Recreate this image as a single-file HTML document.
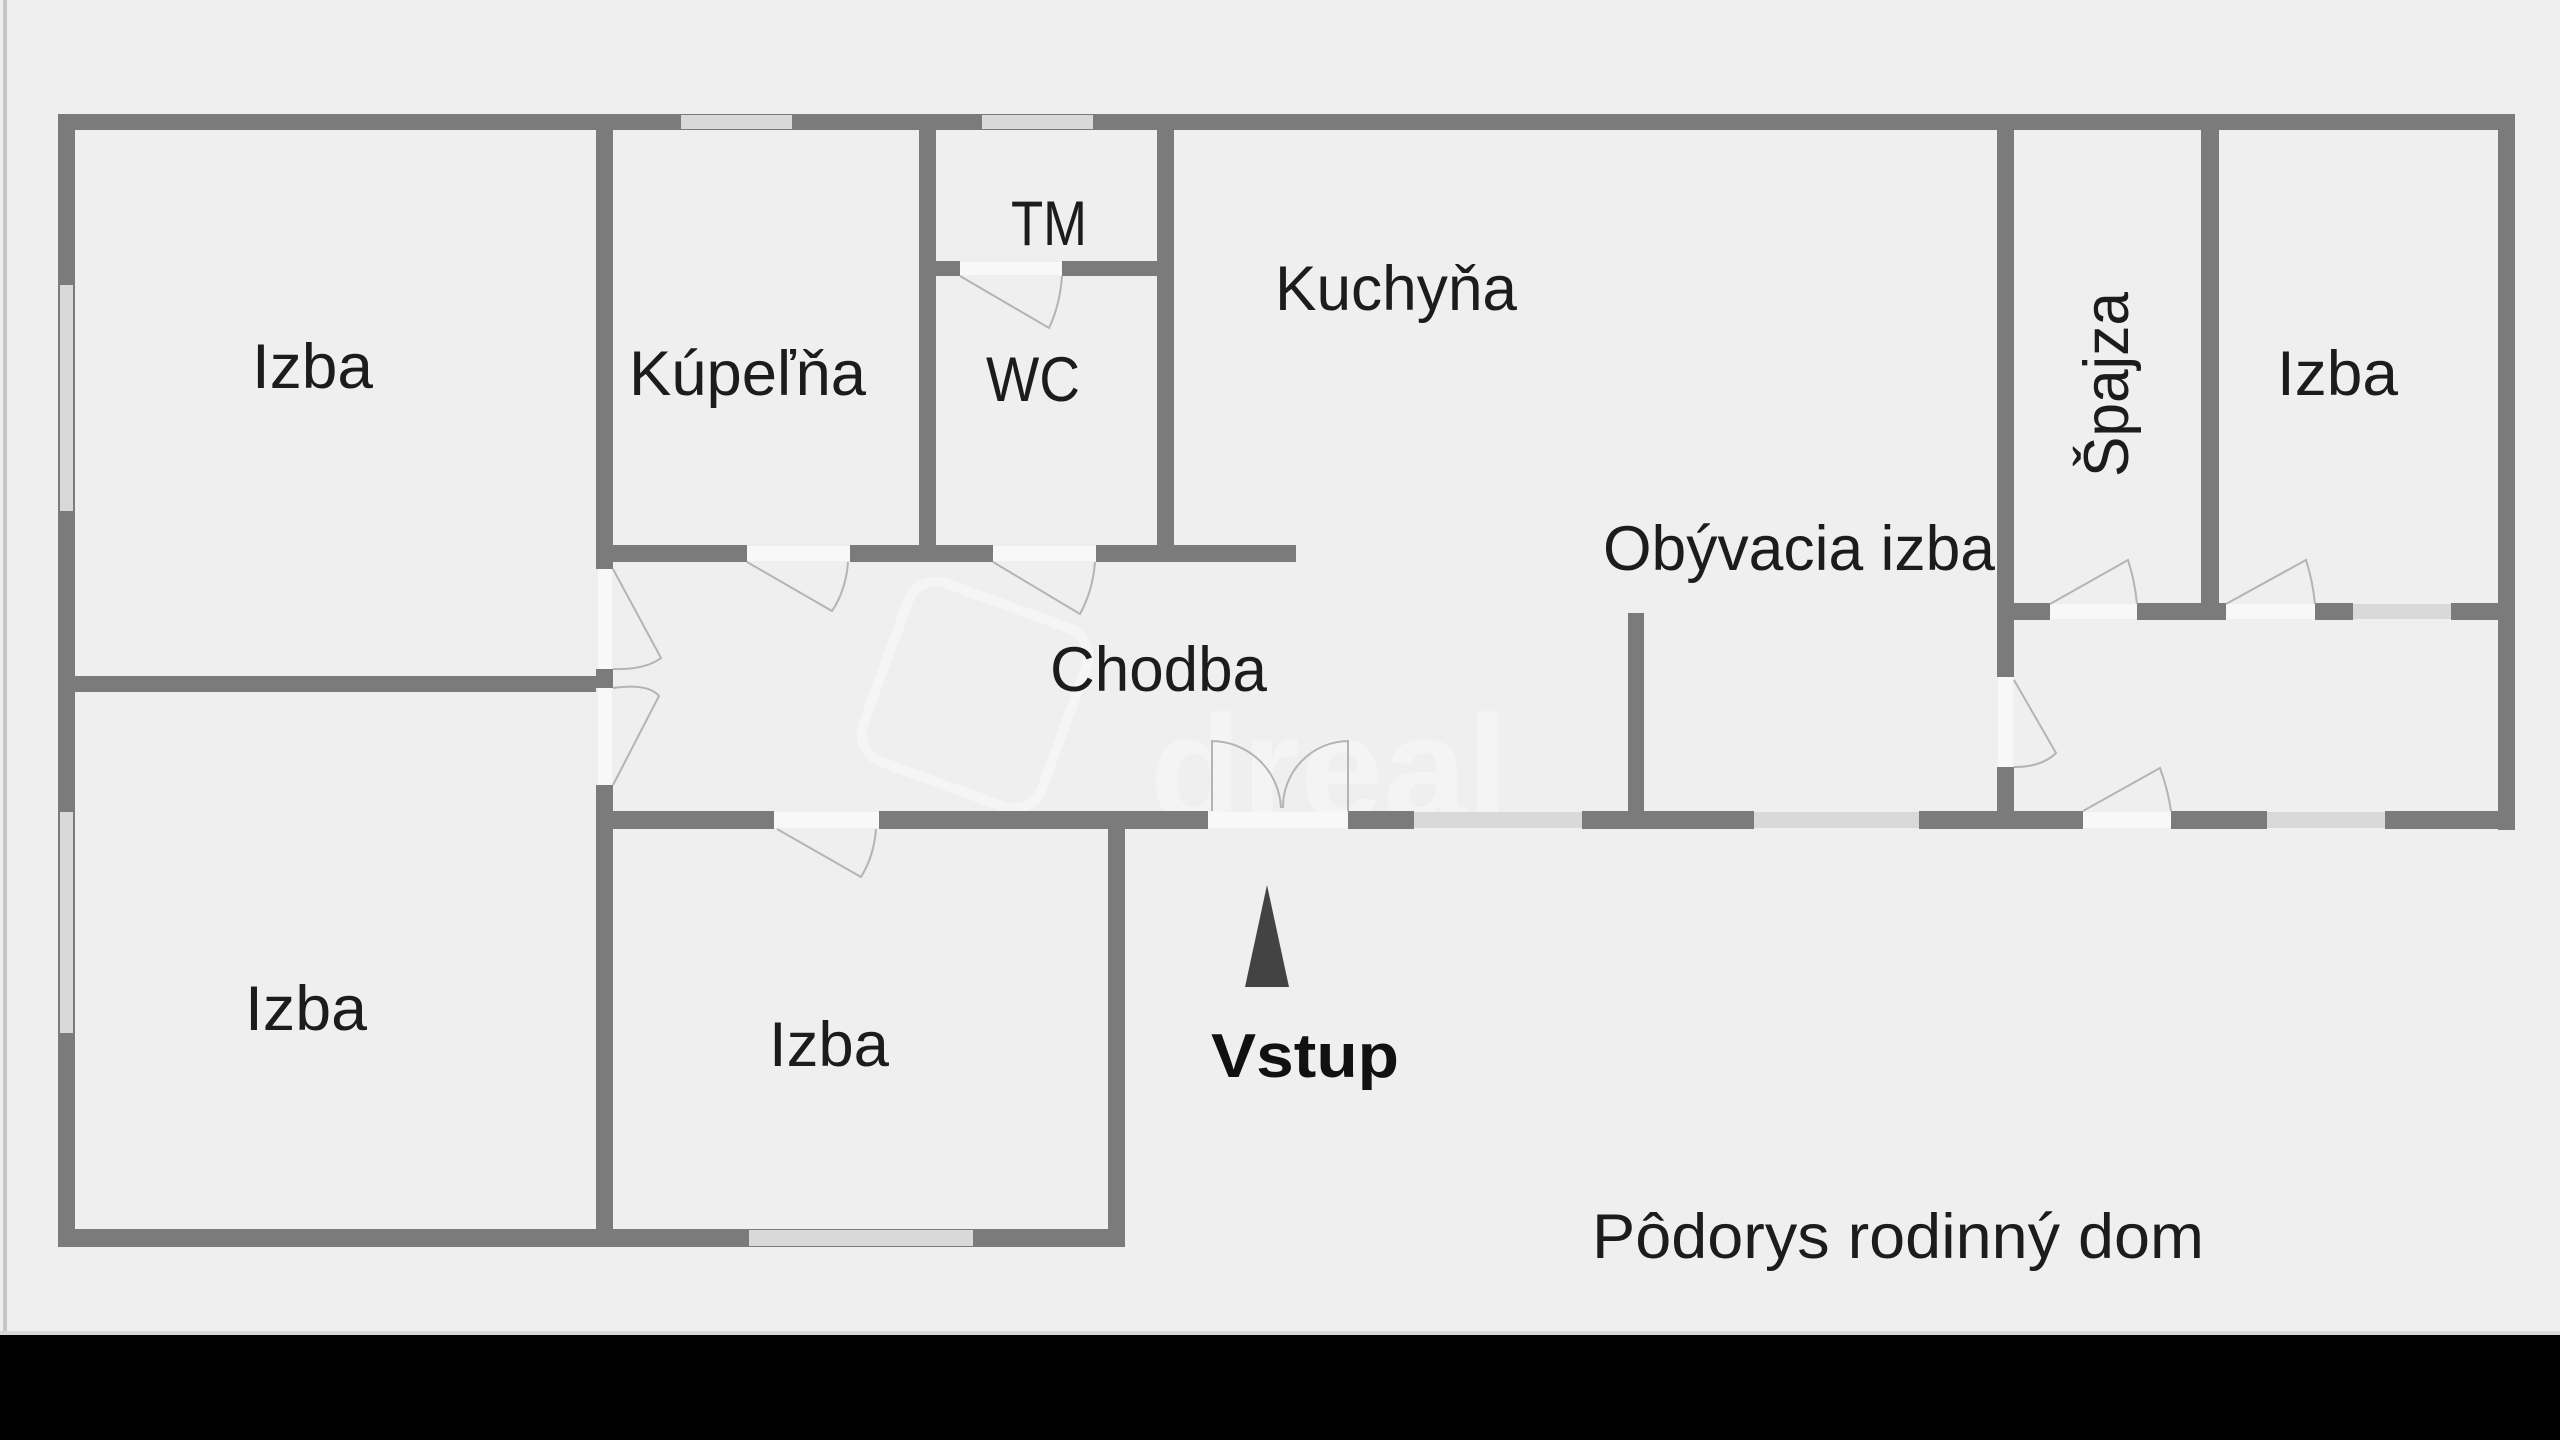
<!DOCTYPE html>
<html><head><meta charset="utf-8"><style>
html,body{margin:0;padding:0;background:#000;}
svg{display:block}
text{font-family:"Liberation Sans",Arial,sans-serif;fill:#1c1c1c}
</style></head><body>
<svg xmlns="http://www.w3.org/2000/svg" width="2560" height="1440" viewBox="0 0 2560 1440">
<rect x="0" y="0" width="2560" height="1440" fill="#000"/>
<rect x="0" y="0" width="2560" height="1335" fill="#efefef"/>
<rect x="3" y="0" width="4" height="1335" fill="#c6c6c6"/>
<rect x="0" y="1331" width="2560" height="4" fill="#d8d8d8"/>

<!-- watermark (faint) -->
<g opacity="0.55" fill="none" stroke="#fafafa" stroke-width="10">
<rect x="880" y="600" width="190" height="190" rx="30" transform="rotate(20 975 695)"/>
</g>
<text x="1150" y="820" font-size="150" font-weight="bold" style="fill:#fafafa;opacity:0.5">dreal</text>

<g fill="#7b7b7b">
<rect x="58" y="114" width="2457" height="16"/>
<rect x="58" y="114" width="17" height="1133"/>
<rect x="2498" y="114" width="17" height="716"/>
<rect x="58" y="1229" width="1067" height="18"/>
<rect x="1108" y="811" width="17" height="436"/>
<rect x="598" y="811" width="176" height="18"/>
<rect x="879" y="811" width="329" height="18"/>
<rect x="1348" y="811" width="66" height="18"/>
<rect x="1582" y="811" width="172" height="18"/>
<rect x="1919" y="811" width="164" height="18"/>
<rect x="2171" y="811" width="96" height="18"/>
<rect x="2385" y="811" width="130" height="18"/>
<rect x="596" y="114" width="17" height="455"/>
<rect x="596" y="669" width="17" height="19"/>
<rect x="596" y="785" width="17" height="462"/>
<rect x="75" y="676" width="521" height="16"/>
<rect x="919" y="114" width="17" height="448"/>
<rect x="1157" y="114" width="17" height="448"/>
<rect x="613" y="545" width="134" height="17"/>
<rect x="850" y="545" width="143" height="17"/>
<rect x="1096" y="545" width="200" height="17"/>
<rect x="936" y="261" width="24" height="15"/>
<rect x="1062" y="261" width="95" height="15"/>
<rect x="1628" y="613" width="16" height="198"/>
<rect x="1997" y="114" width="17" height="563"/>
<rect x="1997" y="767" width="17" height="62"/>
<rect x="2201" y="114" width="18" height="506"/>
<rect x="2014" y="603" width="36" height="17"/>
<rect x="2137" y="603" width="89" height="17"/>
<rect x="2315" y="603" width="38" height="17"/>
<rect x="2451" y="603" width="47" height="17"/>
</g>

<g fill="#d9d9d9">
<rect x="681" y="115" width="111" height="14"/>
<rect x="982" y="115" width="111" height="14"/>
<rect x="60" y="285" width="13" height="226"/>
<rect x="60" y="812" width="13" height="221"/>
<rect x="749" y="1230" width="224" height="16"/>
<rect x="1414" y="812" width="168" height="16"/>
<rect x="1754" y="812" width="165" height="16"/>
<rect x="2267" y="812" width="118" height="16"/>
<rect x="2353" y="604" width="98" height="15"/>
</g>

<g fill="#f8f8f8">
<rect x="747" y="546" width="103" height="15"/>
<rect x="993" y="546" width="103" height="15"/>
<rect x="960" y="262" width="102" height="13"/>
<rect x="598" y="569" width="14" height="100"/>
<rect x="598" y="688" width="14" height="97"/>
<rect x="774" y="812" width="105" height="16"/>
<rect x="1208" y="812" width="140" height="16"/>
<rect x="2050" y="604" width="87" height="15"/>
<rect x="2226" y="604" width="89" height="15"/>
<rect x="1998" y="677" width="15" height="90"/>
<rect x="2083" y="812" width="88" height="16"/>
</g>

<g fill="none" stroke="#b4b4b4" stroke-width="2">
<path d="M747,562 L832,611 Q846,590 848,562"/>
<path d="M993,562 L1080,614 Q1093,590 1095,562"/>
<path d="M960,276 L1049,328 Q1060,305 1062,276"/>
<path d="M613,569 L661,658 Q645,670 613,669"/>
<path d="M613,785 L659,696 Q648,683 613,688"/>
<path d="M777,829 L861,877 Q874,856 876,829"/>
<path d="M2050,604 L2128,560 Q2135,582 2137,604"/>
<path d="M2226,604 L2306,560 Q2313,582 2315,604"/>
<path d="M2014,680 L2056,753 Q2042,767 2014,767"/>
<path d="M2083,811 L2160,768 Q2168,790 2171,811"/>
<path d="M1212,811 L1212,741 A70,70 0 0 1 1281,808"/>
<path d="M1348,811 L1348,741 A66,66 0 0 0 1283,808"/>
</g>

<polygon points="1267,885 1245,987 1289,987" fill="#434343"/>

<g font-size="63">
<text x="252" y="388" textLength="121" lengthAdjust="spacingAndGlyphs">Izba</text>
<text x="629" y="395" textLength="237" lengthAdjust="spacingAndGlyphs">Kúpeľňa</text>
<text x="1011" y="245" textLength="76" lengthAdjust="spacingAndGlyphs">TM</text>
<text x="986" y="401" textLength="94" lengthAdjust="spacingAndGlyphs">WC</text>
<text x="1275" y="310" textLength="242" lengthAdjust="spacingAndGlyphs">Kuchyňa</text>
<text x="1603" y="570" textLength="392" lengthAdjust="spacingAndGlyphs">Obývacia izba</text>
<text x="1050" y="691" textLength="217" lengthAdjust="spacingAndGlyphs">Chodba</text>
<text x="2277" y="395" textLength="121" lengthAdjust="spacingAndGlyphs">Izba</text>
<text x="245" y="1030" textLength="122" lengthAdjust="spacingAndGlyphs">Izba</text>
<text x="769" y="1066" textLength="120" lengthAdjust="spacingAndGlyphs">Izba</text>
<text x="1592" y="1258" textLength="612" lengthAdjust="spacingAndGlyphs">Pôdorys rodinný dom</text>
<text x="0" y="0" transform="translate(2128,477) rotate(-90)" textLength="185" lengthAdjust="spacingAndGlyphs">Špajza</text>
<text x="1211" y="1077" font-weight="bold" font-size="62" textLength="188" lengthAdjust="spacingAndGlyphs" style="fill:#111">Vstup</text>
</g>
</svg>
</body></html>
